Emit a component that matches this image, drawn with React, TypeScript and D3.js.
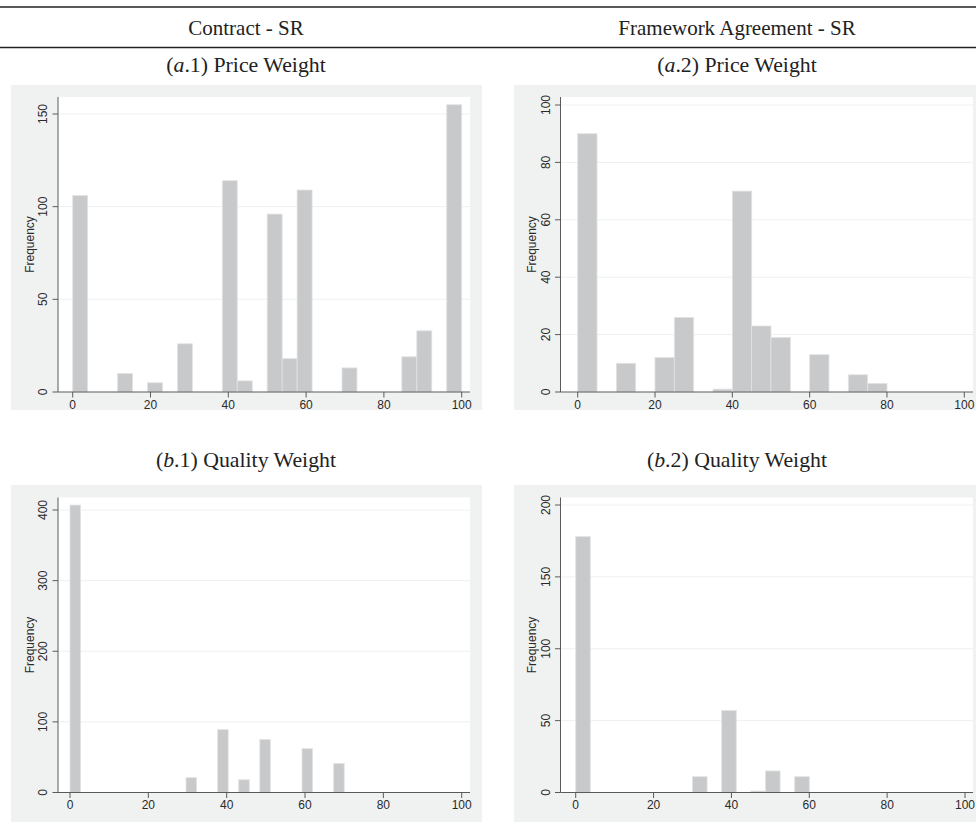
import React from "react";
import * as d3 from "d3";

// ---------- data ----------
const columnHeaders = ["Contract - SR", "Framework Agreement - SR"];
const panelLetters = ["a.1", "a.2", "b.1", "b.2"];
const panelTitles = ["Price Weight", "Price Weight", "Quality Weight", "Quality Weight"];

// histogram bin counts (bins span [min, max] evenly)
const a1Counts = [106, 0, 0, 10, 0, 5, 0, 26, 0, 0, 114, 6, 0, 96, 18, 109, 0, 0, 13, 0, 0, 0, 19, 33, 0, 155];
const a2Counts = [90, 0, 10, 0, 12, 26, 0, 1, 70, 23, 19, 0, 13, 0, 6, 3];
const b1Counts = [407, 0, 0, 0, 0, 0, 0, 0, 0, 0, 0, 21, 0, 0, 89, 0, 18, 0, 75, 0, 0, 0, 62, 0, 0, 41];
const b2Counts = [178, 0, 0, 0, 0, 0, 0, 0, 11, 0, 57, 0, 1, 15, 0, 11];

const binRanges = [
  [0, 100],
  [0, 80],
  [0, 70],
  [0, 60],
];

const xTicks = [0, 20, 40, 60, 80, 100];
const a1YTicks = [0, 50, 100, 150];
const a2YTicks = [0, 20, 40, 60, 80, 100];
const b1YTicks = [0, 100, 200, 300, 400];
const b2YTicks = [0, 50, 100, 150, 200];

// ---------- layout ----------
type Layout = {
  bg: [number, number, number, number];
  plot: [number, number, number, number]; // left, top, right, bottom
  xr: [number, number];
  yr: [number, number];
  yMaxTick: number;
};

const layouts: Layout[] = [
  { bg: [11, 85, 482, 410], plot: [58, 97, 470, 392], xr: [72.7, 461.7], yr: [392, 114], yMaxTick: 150 },
  { bg: [514, 85, 976, 410], plot: [560.5, 97, 973, 392], xr: [577.7, 964.3], yr: [392, 105], yMaxTick: 100 },
  { bg: [11, 485, 482, 822], plot: [58, 497.5, 470, 792.5], xr: [70, 461.7], yr: [792.5, 510], yMaxTick: 400 },
  { bg: [514, 485, 976, 822], plot: [560.5, 497.5, 973, 792.5], xr: [575.7, 965], yr: [792.5, 505], yMaxTick: 200 },
];

const countsList = [a1Counts, a2Counts, b1Counts, b2Counts];
const yTicksList = [a1YTicks, a2YTicks, b1YTicks, b2YTicks];

const sans = "'Liberation Sans', Arial, Helvetica, sans-serif";
const serif = "'Liberation Serif', 'Times New Roman', serif";

function Panel({ idx }: { idx: number }) {
  const L = layouts[idx];
  const counts = countsList[idx];
  const [mn, mx] = binRanges[idx];
  const yTicks = yTicksList[idx];
  const x = d3.scaleLinear().domain([0, 100]).range(L.xr);
  const y = d3.scaleLinear().domain([0, L.yMaxTick]).range(L.yr);
  const w = (mx - mn) / counts.length;
  const bins = counts.map((c, i) => ({ x0: mn + i * w, x1: mn + (i + 1) * w, c }));
  const [pl, pt, pr, pb] = L.plot;
  const axisColor = "#5a5a5a";
  const textColor = "#2a2a2a";
  const fs = 12;
  return (
    <g>
      <rect x={L.bg[0]} y={L.bg[1]} width={L.bg[2] - L.bg[0]} height={L.bg[3] - L.bg[1]} fill="#f0f2f2" />
      <rect x={pl} y={pt} width={pr - pl} height={pb - pt} fill="#ffffff" />
      {yTicks.slice(1).map((t) => (
        <line key={"g" + t} x1={pl} x2={pr} y1={y(t)} y2={y(t)} stroke="#eef0f0" strokeWidth={1} />
      ))}
      {bins
        .filter((b) => b.c > 0)
        .map((b, i) => (
          <rect
            key={i}
            x={x(b.x0)}
            y={y(b.c)}
            width={x(b.x1) - x(b.x0)}
            height={y(0) - y(b.c)}
            fill="#c8c9cb"
            stroke="#e2e3e4"
            strokeWidth={0.8}
          />
        ))}
      {/* axes */}
      <line x1={pl} x2={pl} y1={pt} y2={pb} stroke={axisColor} strokeWidth={1} />
      <line x1={pl} x2={pr} y1={pb} y2={pb} stroke={axisColor} strokeWidth={1} />
      {yTicks.map((t) => (
        <g key={"y" + t}>
          <line x1={pl - 5.5} x2={pl} y1={y(t)} y2={y(t)} stroke={axisColor} strokeWidth={1} />
          <text
            transform={`translate(${pl - 11},${y(t)}) rotate(-90)`}
            textAnchor="middle"
            fontFamily={sans}
            fontSize={fs}
            fill={textColor}
          >
            {t}
          </text>
        </g>
      ))}
      {xTicks.map((t) => (
        <g key={"x" + t}>
          <line x1={x(t)} x2={x(t)} y1={pb} y2={pb + 5.5} stroke={axisColor} strokeWidth={1} />
          <text x={x(t)} y={pb + 16.5} textAnchor="middle" fontFamily={sans} fontSize={fs} fill={textColor}>
            {t}
          </text>
        </g>
      ))}
      <text
        transform={`translate(${pl - 24.5},${(pt + pb) / 2}) rotate(-90)`}
        textAnchor="middle"
        fontFamily={sans}
        fontSize={fs}
        fill={textColor}
      >
        Frequency
      </text>
    </g>
  );
}

const colCenters = [246, 737];

export default function App() {
  const subtitleY = [72, 72, 467, 467];
  return (
    <svg
      width={976}
      height={822}
      style={{ position: "absolute", left: 0, top: 0, background: "#fff" }}
    >
      <rect x={0} y={0} width={976} height={822} fill="#fff" />
      <line x1={0} x2={976} y1={7} y2={7} stroke="#222" strokeWidth={1.5} />
      <line x1={0} x2={976} y1={47.5} y2={47.5} stroke="#222" strokeWidth={1.5} />
      {columnHeaders.map((h, i) => (
        <text key={h} x={colCenters[i]} y={35} textAnchor="middle" fontFamily={serif} fontSize={21} fill="#222">
          {h}
        </text>
      ))}
      {panelLetters.map((l, i) => (
        <text
          key={l}
          x={colCenters[i % 2]}
          y={subtitleY[i]}
          textAnchor="middle"
          fontFamily={serif}
          fontSize={21.8}
          fill="#222"
        >
          (<tspan fontStyle="italic">{l.split(".")[0]}</tspan>.{l.split(".")[1]}) {panelTitles[i]}
        </text>
      ))}
      {[0, 1, 2, 3].map((i) => (
        <Panel key={i} idx={i} />
      ))}
    </svg>
  );
}
